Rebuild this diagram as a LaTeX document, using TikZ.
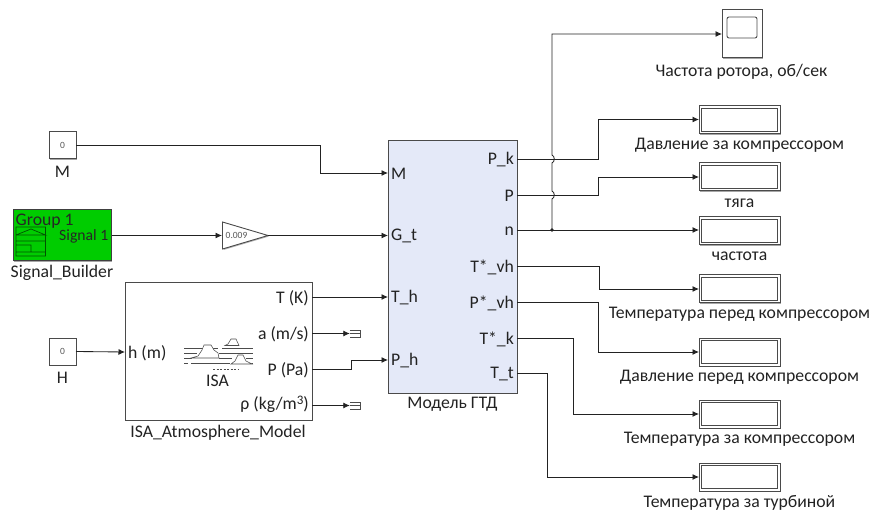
\documentclass[tikz,border=0pt]{standalone}
\usepackage{fontspec}
\setmainfont{Carlito}
\usetikzlibrary{arrows.meta,shadows,positioning}
\definecolor{edgec}{HTML}{4A4A4A}
\definecolor{wirec}{HTML}{222222}
\definecolor{textc}{HTML}{222222}
\definecolor{gtdfill}{HTML}{E4E9F8}
\definecolor{sbgreen}{HTML}{00CC00}
\tikzset{
  blk/.style={draw=edgec,line width=1pt,fill=white,inner sep=0pt,outer sep=0pt,
    drop shadow={shadow xshift=1.2pt,shadow yshift=-1.2pt,opacity=.35,fill=black}},
  lbl/.style={font=\fontsize{17.7}{20}\selectfont,text=textc,inner sep=0pt,anchor=center,yshift=-1.5pt},
  port/.style={font=\fontsize{17.7}{20}\selectfont,text=textc,inner sep=0pt,yshift=-1pt},
  tiny/.style={font=\fontsize{9.5}{11}\selectfont,text=black!65,inner sep=0pt},
  wire/.style={draw=wirec,line width=0.85pt},
  arr/.style={wire,-{Latex[length=6.5pt,width=6pt]}},
  icon/.style={draw=black!70,line width=0.6pt},
  term/.style={inner sep=0pt,minimum width=10pt,minimum height=7pt},
}
\begin{document}
\begin{tikzpicture}[x=1pt,y=-1pt]
\useasboundingbox (0,0) rectangle (872,510);
% sources
\node[blk,minimum width=27pt,minimum height=27pt] (cM) at (62.5,145.5) {};
\node[tiny] (cMv) at (62.5,145.5) {0};
\node[lbl] (lM) at (62.5,170) {M};
\node[blk,minimum width=27pt,minimum height=27pt] (cH) at (62.5,351.5) {};
\node[tiny] (cHv) at (62.5,351) {0};
\node[lbl] (lH) at (62.5,376) {H};
% signal builder
\node[blk,fill=sbgreen,draw=black!75,minimum width=98pt,minimum height=51pt] (sb) at (62.25,235.5) {};
\node[port,anchor=west,text=black!85] (sbg) at (15.5,220) {Group 1};
\node[port,anchor=east,text=black!85,font=\fontsize{15.7}{18}\selectfont] (sbs) at (108.5,235) {Signal 1};
\draw[draw=black!60!sbgreen,line width=0.7pt] (16,227) rectangle (45.5,256)
  (16,241) -- (45.5,241) (16,235) -- (31,229) -- (45.5,235) -- (16,235)
  (16,245) -- (31,245) -- (31,252) -- (45.5,252) (16,252) -- (31,252);
\node[lbl] (lsb) at (62,271) {Signal\_Builder};
% gain
\coordinate (gi) at (222,235.5);
\coordinate (go) at (268,235.5);
\filldraw[draw=edgec,fill=white,line width=0.9pt,drop shadow={shadow xshift=1pt,shadow yshift=-1pt,opacity=.3,fill=black}]
  (222.5,222) -- (268,235.5) -- (222.5,249) -- cycle;
\node[tiny,anchor=west] (gv) at (225.5,235.5) {0.009};
% ISA
\node[blk,minimum width=187pt,minimum height=137pt] (isa) at (218.5,351.5) {};
\node[port,anchor=west] (ih) at (128,352) {h (m)};
\node[port,anchor=east] (iT) at (309,297) {T (K)};
\node[port,anchor=east] (ia) at (309,333) {a (m/s)};
\node[port,anchor=east] (iP) at (309,369) {P (Pa)};
\node[port,anchor=east] (ir) at (309,403) {ρ (kg/m\raisebox{5pt}{\fontsize{13}{13}\selectfont 3})};
\node[lbl] (lisa) at (218,431) {ISA\_Atmosphere\_Model};
\node[lbl] (isat) at (217.5,379.5) {ISA};
\draw[icon,line width=0.55pt]
  (184,348) -- (218,348) (222,348) -- (253,348)
  (184,353) -- (197,353) (219,353) -- (253,353)
  (184,358) -- (192,358) (219,358) -- (232,358) (246,358) -- (253,358)
  (184,363) -- (188,363) (191,363) -- (230,363) (250,363) -- (253,363);
\draw[icon,line width=0.55pt,fill=white] (225,345.5) -- (228,344) -- (231,339) -- (236,339) -- (239,345.5) -- cycle;
\draw[icon,line width=0.55pt,fill=white] (191,358) -- (198,356) -- (202,350) -- (204,345) -- (211,345) -- (214,350) -- (218,353) -- (219,358) -- cycle;
\draw[icon,line width=0.55pt,fill=white] (231,364) -- (235,361) -- (238,355) -- (243,355) -- (246,361) -- (252,364) -- cycle;
\draw[icon,line width=0.55pt,dash pattern=on 2pt off 1.5pt] (213,369) -- (238,369);
% terminators
\node[term] (t1) at (355,333.5) {};
\node[term] (t2) at (355,405.5) {};
\draw[icon] (t1.north west) -- (t1.north east) -- (t1.south east) -- (t1.south west) (t1.west) -- (t1.east);
\draw[icon] (t2.north west) -- (t2.north east) -- (t2.south east) -- (t2.south west) (t2.west) -- (t2.east);
% main block
\node[blk,fill=gtdfill,minimum width=129pt,minimum height=252pt] (gtd) at (452.5,267) {};
\node[lbl] (lgtd) at (452.5,403) {Модель ГТД};
\foreach \n/\t/\y in {pM/M/173,pG/G\_t/235,pTh/T\_h/297,pPh/P\_h/360}
  \node[port,anchor=west] (\n) at (391,\y) {\t};
\foreach \n/\t/\y in {oPk/P\_k/159,oP/P/195,on/n/230,oTv/T*\_vh/266.5,oPv/P*\_vh/302,oTk/T*\_k/338,oTt/T\_t/373}
  \node[port,anchor=east] (\n) at (514,\y) {\t};
% sinks
\node[blk,minimum width=40pt,minimum height=48pt] (sc) at (742,34) {};
\draw[draw=black!70,line width=0.9pt,rounded corners=2pt] (727,17) rectangle (757,38);
\node[lbl] (lsc) at (741.5,70) {Частота ротора, об/сек};
\foreach \n/\y/\t/\ly in {
  d1/119.5/Давление за компрессором/144,
  d2/177/тяга/202,
  d3/231/частота/255,
  d4/289/Температура перед компрессором/313,
  d5/352/Давление перед компрессором/376,
  d6/414/Температура за компрессором/438,
  d7/477/Температура за турбиной/501}{
  \node[blk,minimum width=81pt,minimum height=28pt] (\n) at (739.5,\y) {};
  \draw[draw=edgec,line width=0.7pt] ([shift={(2.5pt,2.5pt)}]\n.south west) rectangle ([shift={(-2.5pt,-2.5pt)}]\n.north east);
  \node[lbl] (l\n) at (739.5,\ly) {\t};
}
% connectors
\coordinate (iM) at (388,173);
\coordinate (iG) at (388,235.5);
\coordinate (iTh) at (388,297);
\coordinate (iPh) at (388,360);
\coordinate (oTr) at (312,297);
\coordinate (oAr) at (312,333.5);
\coordinate (oPr) at (312,369);
\coordinate (oRr) at (312,405.5);
\coordinate (hin) at (125,352);
\coordinate (sbo) at (111.5,235.5);
\coordinate (xPk) at (517,159);
\coordinate (xP) at (517,195);
\coordinate (xn) at (517,230);
\coordinate (xTv) at (517,266.5);
\coordinate (xPv) at (517,302);
\coordinate (xTk) at (517,338);
\coordinate (xTt) at (517,373);
\coordinate (jn) at (552,230);
\draw[arr] (cM.east) -- (320,145.5) -- (320,173) -- (iM);
\draw[arr] (sbo) -- (gi);
\draw[arr] (go) -- (iG);
\draw[arr] (cH.east) -- (hin);
\draw[arr] (oTr) -- (iTh);
\draw[arr] (oAr) -- (t1.west);
\draw[arr] (oPr) -- (351,369) -- (351,360) -- (iPh);
\draw[arr] (oRr) -- (t2.west);
\draw[arr] (xPk) -- (598,159) -- (598,119.5) -- (d1.west);
\draw[arr] (xP) -- (598.5,195) -- (598.5,177) -- (d2.west);
\draw[arr] (xn) -- (d3.west |- jn);
\draw[arr] (xTv) -- (599,266.5) -- (599,289) -- (d4.west);
\draw[arr] (xPv) -- (598,302) -- (598,352) -- (d5.west);
\draw[arr] (xTk) -- (573,338) -- (573,414) -- (d6.west);
\draw[arr] (xTt) -- (547,373) -- (547,477) -- (d7.west);
\draw[arr] (jn) -- (552,199) .. controls (555,198) and (555,192) .. (552,191)
  -- (552,163) .. controls (555,162) and (555,156) .. (552,155)
  -- (552,34) -- (sc.west);
\fill[wirec] (jn) circle (1.9pt);
\end{tikzpicture}
\end{document}
